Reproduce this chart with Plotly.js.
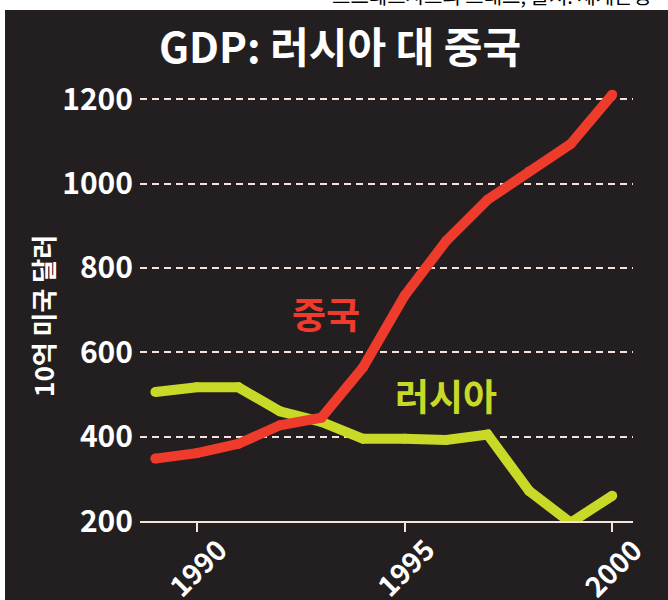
<!DOCTYPE html>
<html>
<head>
<meta charset="utf-8">
<script src="https://cdn.plot.ly/plotly-3.0.1.min.js"></script>
<style>
html, body { margin: 0; padding: 0; background: #ffffff; }
#chart { width: 668px; height: 600px; }
</style>
</head>
<body>
<div id="chart"></div>
<script>
const years = [1989, 1990, 1991, 1992, 1993, 1994, 1995, 1996, 1997, 1998, 1999, 2000];
const china = [348, 361, 383, 427, 445, 564, 734, 864, 962, 1029, 1094, 1211];
const russia = [506, 517, 517, 460, 435, 395, 395, 392, 405, 271, 196, 260];
const chinaLabel = "중국";
const russiaLabel = "러시아";
const titleText = "GDP: 러시아 대 중국";
const yTitle = "10억 미국 달러";
const sourceText = "스프레드시트의 그래프, 출처: 세계은행";
const yTicks = [200, 400, 600, 800, 1000, 1200];
const xTicks = [1990, 1995, 2000];

const RED = "#ee3b2b";
const GREEN = "#c9d927";
const BG = "#231f20";
const GRID = "#f6e2da";
const FONT = "Noto Sans CJK KR, Noto Sans, sans-serif";

const traces = [
  {
    x: years, y: russia, type: "scatter", mode: "lines+markers",
    line: { color: GREEN, width: 10 }, marker: { color: GREEN, size: 10 },
    cliponaxis: false, hoverinfo: "skip", showlegend: false
  },
  {
    x: years, y: china, type: "scatter", mode: "lines+markers",
    line: { color: RED, width: 10 }, marker: { color: RED, size: 10 },
    cliponaxis: false, hoverinfo: "skip", showlegend: false
  }
];

const xLabelAnnotations = xTicks.map(t => ({
  text: "<b>" + t + "</b>", textangle: -45,
  x: t, y: -0.103, xref: "x", yref: "paper",
  showarrow: false, font: { family: FONT, size: 28, color: "#ffffff" },
  xanchor: "center", yanchor: "middle"
}));

const layout = {
  width: 668, height: 600,
  margin: { l: 140, r: 35, t: 74, b: 79, pad: 0 },
  paper_bgcolor: "#ffffff",
  plot_bgcolor: "rgba(0,0,0,0)",
  font: { family: FONT, color: "#ffffff" },
  title: {
    text: "<b>" + titleText + "</b>",
    font: { family: FONT, size: 42, color: "#ffffff" },
    x: 0.509, xanchor: "center", xref: "container",
    y: 0.92, yanchor: "middle", yref: "container"
  },
  xaxis: {
    range: [1988.63, 2000.5],
    tickvals: xTicks, ticktext: xTicks.map(String),
    showticklabels: false,
    ticks: "outside", ticklen: 9, tickwidth: 2, tickcolor: GRID,
    showline: true, linecolor: GRID, linewidth: 2,
    showgrid: false, zeroline: false, layer: "below traces"
  },
  yaxis: {
    range: [200, 1260],
    tickvals: yTicks, ticktext: yTicks.map(String),
    tickfont: { family: FONT, size: 30, color: "#ffffff", weight: "bold" },
    ticks: "", ticklabelstandoff: 6,
    showgrid: true, gridcolor: GRID, gridwidth: 2, griddash: "7px,5px",
    zeroline: false, showline: false, layer: "below traces"
  },
  shapes: [
    {
      type: "rect", xref: "paper", yref: "paper", layer: "below",
      x0: -0.2738, x1: 1.2, y0: -0.3, y1: 1.1432,
      fillcolor: BG, line: { width: 0 }
    }
  ],
  annotations: [
    {
      text: "<b>" + chinaLabel + "</b>", x: 1993.11, y: 693, xref: "x", yref: "y",
      showarrow: false, font: { family: FONT, size: 37, color: RED },
      xanchor: "center", yanchor: "middle"
    },
    {
      text: "<b>" + russiaLabel + "</b>", x: 1996.0, y: 498, xref: "x", yref: "y",
      showarrow: false, font: { family: FONT, size: 37, color: GREEN },
      xanchor: "center", yanchor: "middle"
    },
    {
      text: "<b>" + yTitle + "</b>", textangle: -90,
      x: -0.199, y: 0.4586, xref: "paper", yref: "paper",
      showarrow: false, font: { family: FONT, size: 26, color: "#ffffff" },
      xanchor: "center", yanchor: "middle"
    },
    {
      text: sourceText, x: 0.385, y: 1.1387, xref: "paper", yref: "paper",
      showarrow: false, font: { family: FONT, size: 20, color: "#000000" },
      xanchor: "left", yanchor: "bottom"
    }
  ].concat(xLabelAnnotations)
};

Plotly.newPlot("chart", traces, layout, { staticPlot: true, displayModeBar: false });
</script>
</body>
</html>
